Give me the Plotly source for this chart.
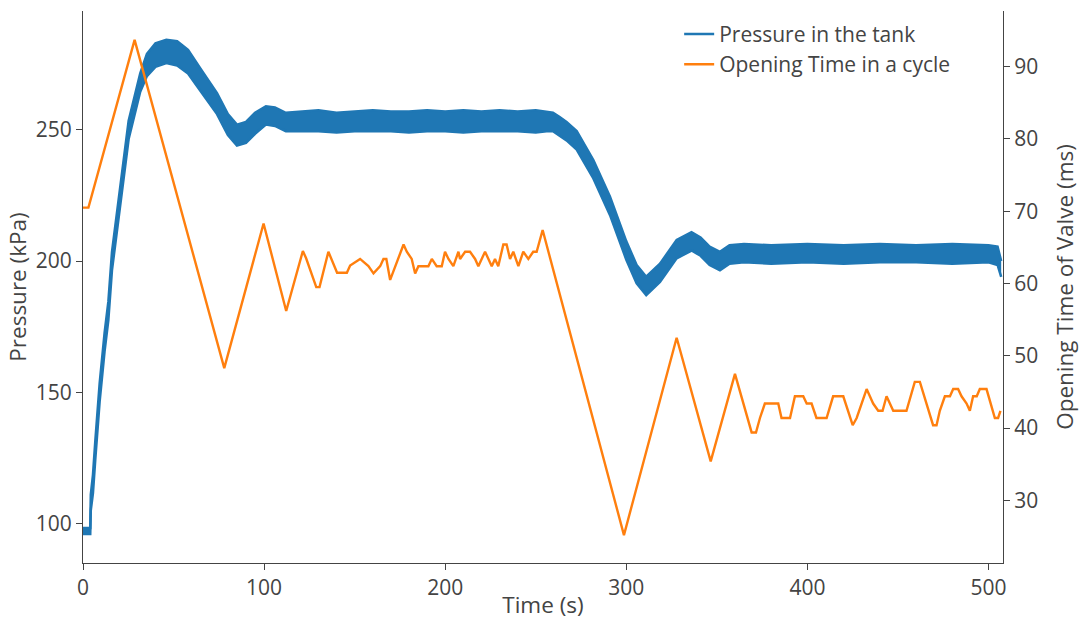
import plotly.graph_objects as go

# ---- Pressure in the tank (kPa): upper / lower edge of the noisy band ----
p_t = [0, 3.8, 4.0, 4.3, 5.5, 6.8, 9.2, 11.9, 14, 16, 20.2, 25.2, 31.6, 35.3, 40, 46, 52, 58, 64.7, 70, 74, 80, 85, 90, 95, 101, 106, 112,
       120, 130, 140, 150, 160, 170, 180, 190, 200, 210, 220, 230, 240, 250,
       256, 259.5, 263, 267, 272.6, 281.8, 291, 300, 305.7, 311, 318.6, 327.8, 336, 341, 346, 351.7, 357,
       365, 380, 400, 420, 440, 460, 480, 500,
       505, 507]
p_hi = [98.2, 98.2, 98.2, 111, 118.5, 131.5, 153.5, 172.5, 184.5, 203.5, 226.5, 253.5, 271.5, 279, 283, 284.3, 283.8, 280.5, 273.5, 268, 264, 256, 252, 253, 256.5, 259, 258.5, 256.5,
        257, 257.5, 256.5, 257, 257.5, 257, 257, 257.5, 257, 257.5, 257, 257.5, 257, 257.5,
        257, 256.5, 255, 253, 249.5, 238.5, 224.5, 207.5, 198.5, 194, 199, 208, 211, 209, 205.5, 203.5, 206,
        206.5, 206, 206.5, 206, 206.5, 206, 206.5, 206,
        205.5, 200]
p_lo = [96, 96, 96, 105, 111.5, 124.5, 146.5, 165.5, 177.5, 196.5, 219.5, 246.5, 264.5, 270.5, 274, 275.5, 274.5, 271.5, 265, 260, 256, 248, 244, 245, 248.5, 252, 251.5, 249.5,
        249.5, 249.5, 249, 249.5, 249.5, 249.5, 249, 249.5, 249.5, 249, 249.5, 249.5, 249.5, 249,
        249.5, 249.5, 248, 246, 242.5, 231.5, 217.5, 200.5, 191.5, 187, 192, 201, 204, 202, 198.5, 196.5, 199,
        199.5, 199, 199.5, 199, 199.5, 199.5, 199, 199.5,
        198.5, 194]

# ---- Opening time of valve in a cycle (ms) ----
o_t = [0, 3, 28.5, 78, 99.7, 112.2, 121.4, 123.2, 128.8, 130.6, 135.5, 140.3, 145.7, 147.5, 153, 157.6, 160.4, 164.1,
       165.9, 167.5, 169.6, 177.0, 178.8, 181.5, 183.4, 185.2, 188.0, 190.7, 192.6, 195.3, 198.1, 199.9, 201.8, 204.5,
       207.3, 208.2, 211.0, 213.7, 216.5, 218.3, 222.0, 223.8, 225.7, 227.5, 229.3, 232.1, 233.9, 235.8, 237.6, 240.4,
       243.1, 245.9, 248.6, 250.5, 253.8, 298.7, 327.8, 346.6, 360, 369.2, 371.6, 373.8, 376.5, 383.9, 385.7, 390.4,
       393.1, 397.7, 399.6, 402.3, 405, 410.6, 414.2, 419.8, 422.5, 425, 427.2, 429.9, 432.7, 434.5, 436.3, 439.1,
       441.5, 443.7, 445.5, 447.4, 454.7, 459.3, 462.1, 469.4, 471.3, 473.1, 475.9, 478.7, 480.5, 483.2, 485.1, 487.9,
       489.7, 491.5, 493.5, 495.2, 498.9, 503.5, 505.3, 506.6]
o_v = [70.5, 70.5, 93.7, 48.3, 68.3, 56.2, 64.5, 63.5, 59.5, 59.5, 64.4, 61.5, 61.5, 62.5, 63.4, 62.4, 61.4, 62.4,
       63.4, 63.4, 60.5, 65.4, 64.4, 63.4, 61.4, 62.4, 62.4, 62.4, 63.4, 62.4, 62.4, 64.4, 63.4, 62.4,
       64.4, 63.4, 64.4, 64.4, 63.4, 62.4, 64.4, 63.4, 62.4, 63.4, 62.4, 65.4, 65.4, 63.4, 64.4, 62.4,
       64.4, 63.4, 64.4, 64.4, 67.4, 25.2, 52.5, 35.4, 47.5, 39.4, 39.4, 41.4, 43.4, 43.4, 41.4, 41.4,
       44.4, 44.4, 43.4, 43.4, 41.4, 41.4, 44.4, 44.4, 42.4, 40.4, 41.4, 43.4, 45.4, 44.4, 43.4, 42.4,
       42.4, 44.4, 43.4, 42.4, 42.4, 46.4, 46.4, 40.4, 40.4, 42.4, 44.4, 44.4, 45.4, 45.4, 44.4, 43.4,
       42.4, 44.4, 44.4, 45.4, 45.4, 41.4, 41.4, 42.4]

x_ticks = [0, 100, 200, 300, 400, 500]
y1_ticks = [100, 150, 200, 250]
y2_ticks = [30, 40, 50, 60, 70, 80, 90]

BLUE = "#1f77b4"
ORANGE = "#ff7f0e"
TXT = "#444"
FONT = "Open Sans"
TITLE_SIZE = 22.5

fig = go.Figure()
fig.add_trace(go.Scatter(x=p_t, y=p_hi, mode="lines", name="Pressure in the tank",
                         line=dict(color=BLUE, width=2.5), yaxis="y"))
fig.add_trace(go.Scatter(x=p_t, y=p_lo, mode="lines", name="Pressure in the tank",
                         line=dict(color=BLUE, width=2.5), fill="tonexty", fillcolor=BLUE,
                         showlegend=False, yaxis="y"))
fig.add_trace(go.Scatter(x=o_t, y=o_v, mode="lines", name="Opening Time in a cycle",
                         line=dict(color=ORANGE, width=2.4), yaxis="y2"))

axis_common = dict(showgrid=False, zeroline=False, showline=True, linecolor=TXT, linewidth=1,
                   ticks="outside", ticklen=6, tickcolor=TXT, automargin=False,
                   tickfont=dict(size=21, color=TXT, family=FONT))

fig.update_layout(
    width=1080, height=620,
    margin=dict(l=83, r=77, t=11, b=57, autoexpand=False),
    paper_bgcolor="white", plot_bgcolor="white",
    font=dict(family=FONT, size=21, color=TXT),
    showlegend=True,
    legend=dict(x=0.648, y=0.995, xanchor="left", yanchor="top", bgcolor="rgba(0,0,0,0)",
                traceorder="normal", font=dict(size=21, color=TXT, family=FONT)),
    xaxis=dict(range=[0, 508], tickvals=x_ticks,
               title=dict(text="Time (s)", font=dict(size=TITLE_SIZE)), **axis_common),
    yaxis=dict(range=[84.9, 295.3], tickvals=y1_ticks,
               title=dict(text="Pressure (kPa)", font=dict(size=TITLE_SIZE), standoff=2), **axis_common),
    yaxis2=dict(range=[21.34, 97.7], tickvals=y2_ticks, overlaying="y", side="right",
                title=dict(text="Opening Time of Valve (ms)", font=dict(size=TITLE_SIZE), standoff=22), **axis_common),
)

fig.write_html("out.html")
